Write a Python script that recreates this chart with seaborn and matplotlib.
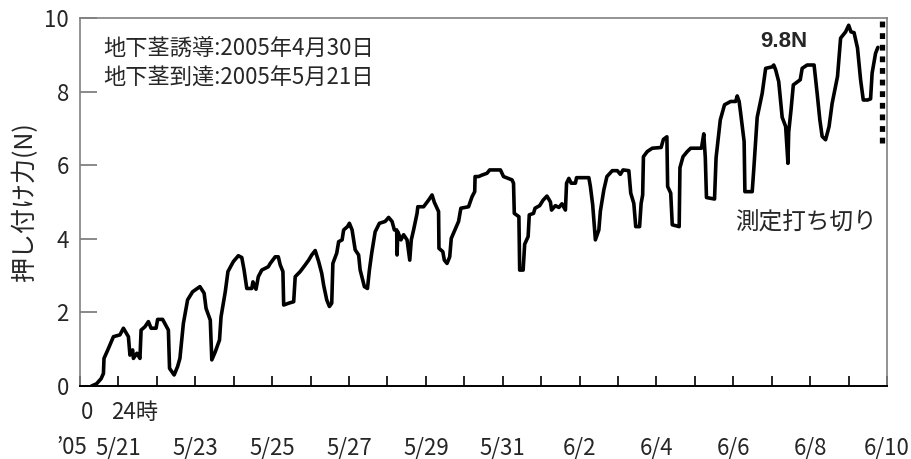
import matplotlib
matplotlib.use("Agg")
import matplotlib.pyplot as plt
import matplotlib.transforms as mtransforms
import numpy as np
import pandas as pd
import seaborn as sns

# Elapsed time since 2005-05-20 00:00 (days) and pushing force (N)
elapsed_days = [
    0.30, 0.43, 0.55, 0.61, 0.625, 0.74, 0.87, 1.04, 1.13, 1.26, 1.30, 1.37, 1.39,
    1.48, 1.56, 1.59, 1.69, 1.78, 1.85, 1.98, 2.02, 2.15, 2.30, 2.33, 2.45, 2.54,
    2.60, 2.69, 2.80, 2.93, 3.12, 3.23, 3.28, 3.39, 3.43, 3.52, 3.63, 3.67, 3.78,
    3.85, 3.99, 4.12, 4.21, 4.27, 4.34, 4.47, 4.50, 4.58, 4.64, 4.73, 4.90, 4.95,
    5.08, 5.16, 5.21, 5.28, 5.30, 5.43, 5.56, 5.60, 5.73, 5.86, 5.95, 6.03, 6.12,
    6.21, 6.29, 6.34, 6.42, 6.49, 6.55, 6.58, 6.68, 6.73, 6.82, 6.86, 6.96, 7.01,
    7.08, 7.16, 7.25, 7.29, 7.40, 7.48, 7.53, 7.59, 7.68, 7.79, 7.94, 8.03, 8.12,
    8.18, 8.24, 8.25, 8.27, 8.35, 8.42, 8.51, 8.58, 8.62, 8.68, 8.77, 8.79, 8.94,
    9.07, 9.16, 9.22, 9.33, 9.34, 9.44, 9.48, 9.55, 9.62, 9.66, 9.77, 9.85, 9.91,
    10.11, 10.20, 10.27, 10.28, 10.37, 10.46, 10.59, 10.66, 10.94, 11.02, 11.24,
    11.28, 11.30, 11.42, 11.44, 11.53, 11.57, 11.66, 11.69, 11.80, 11.84, 11.96,
    12.05, 12.15, 12.24, 12.27, 12.37, 12.46, 12.54, 12.63, 12.66, 12.72, 12.78,
    12.89, 12.92, 13.24, 13.28, 13.34, 13.41, 13.50, 13.54, 13.63, 13.71, 13.85,
    13.98, 14.06, 14.13, 14.28, 14.33, 14.41, 14.46, 14.56, 14.60, 14.64, 14.66,
    14.76, 14.89, 15.12, 15.18, 15.27, 15.29, 15.37, 15.41, 15.59, 15.61, 15.69,
    15.80, 15.89, 16.17, 16.23, 16.27, 16.30, 16.51, 16.55, 16.66, 16.77, 16.93,
    17.06, 17.10, 17.15, 17.19, 17.28, 17.30, 17.49, 17.53, 17.62, 17.75, 17.84,
    18.01, 18.05, 18.10, 18.18, 18.27, 18.36, 18.42, 18.44, 18.50, 18.56, 18.74,
    18.79, 18.92, 19.10, 19.18, 19.25, 19.31, 19.40, 19.49, 19.57, 19.71, 19.79,
    19.92, 20.00, 20.06, 20.14, 20.23, 20.31, 20.38, 20.49, 20.57, 20.61, 20.70,
    20.76,
]
force_n = [
    0.00, 0.06, 0.20, 0.34, 0.75, 1.02, 1.34, 1.39, 1.57, 1.34, 0.84, 0.98, 0.75,
    0.89, 0.75, 1.52, 1.61, 1.75, 1.57, 1.57, 1.81, 1.81, 1.52, 0.48, 0.30, 0.53,
    0.75, 1.70, 2.34, 2.56, 2.70, 2.52, 2.11, 1.79, 0.71, 0.93, 1.25, 1.88, 2.56,
    3.11, 3.38, 3.54, 3.49, 3.15, 2.65, 2.65, 2.83, 2.63, 2.97, 3.15, 3.24, 3.33,
    3.51, 3.51, 3.29, 3.11, 2.20, 2.25, 2.29, 2.97, 3.11, 3.29, 3.42, 3.56, 3.68,
    3.38, 3.06, 2.74, 2.34, 2.16, 2.25, 3.33, 3.61, 3.92, 3.97, 4.24, 4.33, 4.42,
    4.24, 3.70, 3.56, 3.15, 2.70, 2.65, 3.15, 3.61, 4.19, 4.42, 4.47, 4.58, 4.47,
    4.24, 4.24, 3.56, 4.19, 3.97, 4.11, 3.97, 3.42, 3.97, 4.24, 4.69, 4.87, 4.87,
    5.05, 5.19, 4.99, 4.74, 3.74, 3.65, 3.42, 3.33, 3.51, 4.01, 4.28, 4.47, 4.83,
    4.87, 5.14, 5.28, 5.69, 5.69, 5.73, 5.78, 5.87, 5.87, 5.69, 5.60,
    5.51, 4.69, 4.60, 3.15, 3.15, 3.85, 4.06, 4.65, 4.69, 4.83, 4.90,
    5.05, 5.16, 5.00, 4.78, 4.90, 4.85, 4.95, 4.78, 5.51, 5.64, 5.51,
    5.51, 5.66, 5.66, 5.42, 4.92, 3.97, 4.24, 4.75, 5.33, 5.69, 5.85,
    5.85, 5.75, 5.87, 5.85, 5.24, 4.96, 4.33, 4.33, 4.96, 5.19, 6.23,
    6.37, 6.46, 6.48, 6.70, 6.77, 5.42, 5.24, 4.38, 4.33, 5.93, 6.23,
    6.37, 6.46, 6.46, 6.85, 6.20, 5.12, 5.08, 6.20, 7.23, 7.64, 7.73,
    7.73, 7.88, 7.73, 7.41, 6.64, 5.28, 5.28, 5.87, 7.30, 7.95, 8.63,
    8.67, 8.72, 8.59, 8.27, 7.30, 7.05, 6.05, 6.90, 7.50, 8.18, 8.32,
    8.63, 8.72, 8.72, 7.95, 7.23, 6.78, 6.69, 7.05, 7.68, 8.41, 9.45,
    9.62, 9.80, 9.62, 9.60, 9.18, 8.32, 7.77, 7.77, 7.80, 8.50, 9.04,
    9.20,
]

tick_days = list(range(0, 22))
label_days = list(range(1, 22, 2))
date_labels = ["5/21", "5/23", "5/25", "5/27", "5/29", "5/31",
               "6/2", "6/4", "6/6", "6/8", "6/10"]
y_ticks = [0, 2, 4, 6, 8, 10]

cutoff_day = 20.86
cutoff_range = [6.6, 10.0]
note_lines = ["地下茎誘導:2005年4月30日", "地下茎到達:2005年5月21日"]

df = pd.DataFrame({"day": elapsed_days, "force": force_n})

sns.set_theme(style="white")
plt.rcParams["font.family"] = ["Noto Sans CJK JP", "DejaVu Sans"]

fig = plt.figure(figsize=(9.12, 4.59), dpi=100)
ax = fig.add_axes([0.0877, 0.159, 0.885, 0.802])

sns.lineplot(data=df, x="day", y="force", sort=False, estimator=None,
             color="black", linewidth=2.6, ax=ax)

# measurement cut-off marker
ax.plot([cutoff_day, cutoff_day], cutoff_range, color="black",
        linewidth=3.8, linestyle=(0, (1.1, 1.1)), solid_capstyle="butt",
        clip_on=False)

ax.set_xlim(0, 21)
ax.set_ylim(0, 10)
ax.set_xlabel("")
ax.set_ylabel("押し付け力(N)", fontsize=18, labelpad=4)

ax.set_xticks(label_days)
ax.set_xticklabels(date_labels, fontsize=16)
ax.set_xticks([d for d in tick_days if d not in label_days], minor=True)
ax.tick_params(axis="x", which="both", direction="in", length=7, width=1.2,
               color="black", pad=36, bottom=True)
ax.set_yticks(y_ticks)
ax.set_yticklabels([str(v) for v in y_ticks], fontsize=16)
ax.tick_params(axis="y", direction="in", length=12, width=1.3,
               color="#808080", pad=8, left=True)

for side in ["left", "top", "right"]:
    ax.spines[side].set_color("#808080")
    ax.spines[side].set_linewidth(1.2)
ax.spines["bottom"].set_color("black")
ax.spines["bottom"].set_linewidth(1.4)

trans = mtransforms.blended_transform_factory(ax.transData, ax.transAxes)
ax.text(0.18, -0.073, "0", transform=trans, fontsize=16, ha="center", va="center")
ax.text(0.80, -0.073, "24時", transform=trans, fontsize=16, ha="left", va="center")
ax.text(-0.22, -0.168, "’05", transform=trans, fontsize=16, ha="center",
        va="center", clip_on=False)

ax.text(0.6, 9.18, note_lines[0], fontsize=16, ha="left", va="center")
ax.text(0.6, 8.37, note_lines[1], fontsize=16, ha="left", va="center")

peak = max(force_n)
ax.text(18.3, 9.35, f"{peak:.1f}N", fontsize=16, fontweight="bold",
        family="Liberation Sans", ha="center", va="center")
ax.text(18.9, 4.43, "測定打ち切り", fontsize=17, ha="center", va="center")

fig.savefig("out.png", dpi=100)
